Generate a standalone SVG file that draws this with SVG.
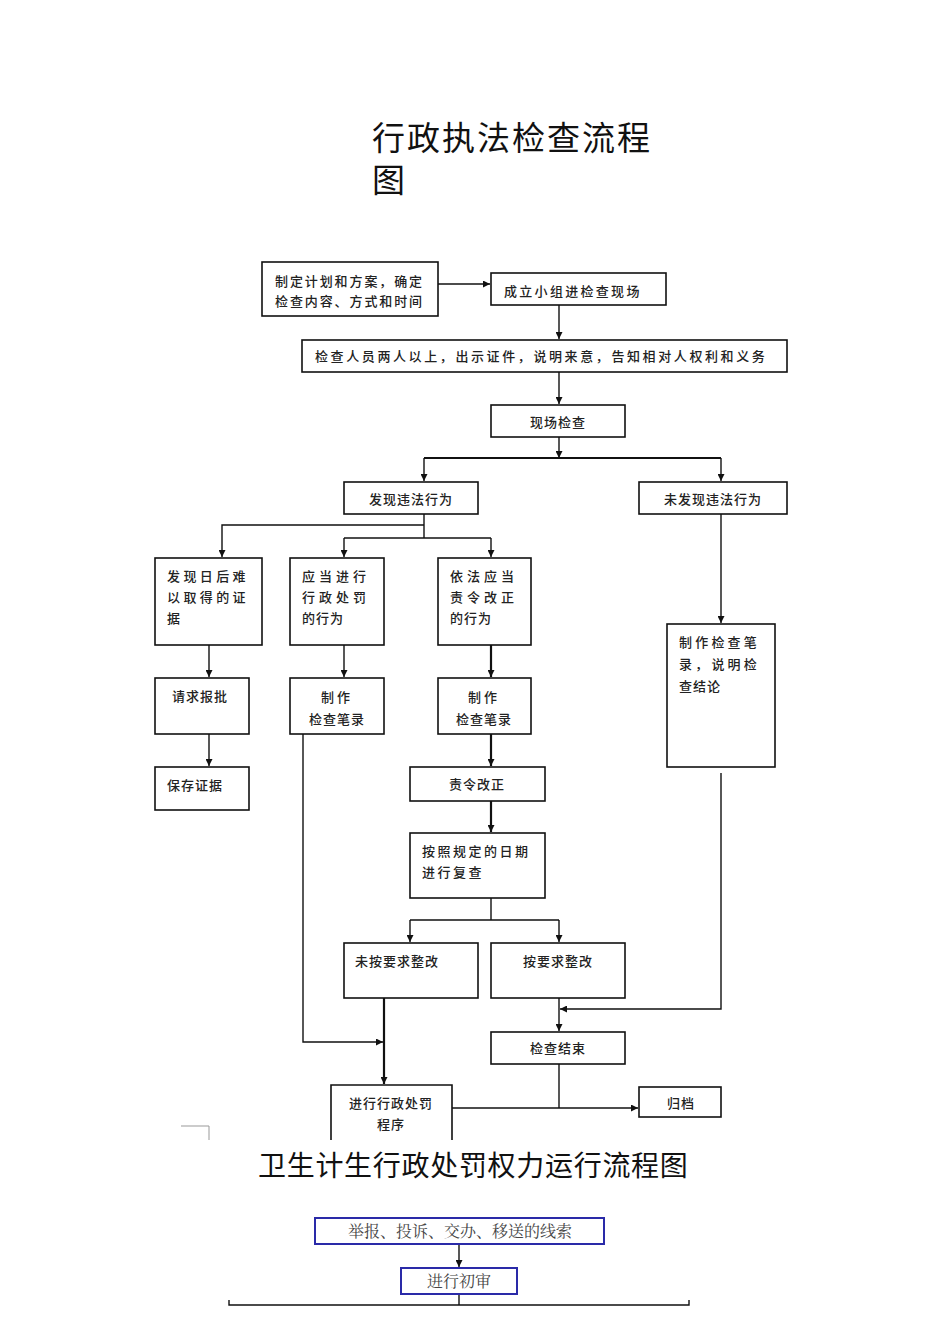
<svg xmlns="http://www.w3.org/2000/svg" width="950" height="1344" viewBox="0 0 950 1344">
<defs>
<style>
.b{fill:#fff;stroke:#111;stroke-width:1.6}
.bb{fill:#fff;stroke:#2a2aa8;stroke-width:2}
.t{font-family:"Noto Sans CJK SC","Noto Sans CJK JP",sans-serif;font-size:13px;fill:#222;font-weight:500}
.s{font-family:"Noto Serif CJK SC","Noto Sans CJK SC",serif;font-size:16px;fill:#444}
.h{font-family:"Noto Sans CJK SC",sans-serif;fill:#111}
.c{fill:none;stroke:#111;stroke-width:1.4}
.ct{fill:none;stroke:#111;stroke-width:2.2}
</style>
<marker id="a" viewBox="0 0 10 10" refX="10" refY="5" markerWidth="7" markerHeight="7" orient="auto" markerUnits="userSpaceOnUse">
<path d="M0,0 L10,5 L0,10 z" fill="#111"/>
</marker>
</defs>
<rect width="950" height="1344" fill="#fff"/>
<text class="h" x="372" y="150" font-size="33" letter-spacing="2"><tspan x="372" y="150">行政执法检查流程</tspan><tspan x="372" y="192">图</tspan></text>

<g id="connectors">
<path class="c" d="M438,284 H490" marker-end="url(#a)"/>
<path class="c" d="M559,305 V339" marker-end="url(#a)"/>
<path class="c" d="M559,372 V404" marker-end="url(#a)"/>
<path class="c" d="M559,437 V458" marker-end="url(#a)"/>
<path class="ct" d="M424,458 H721"/>
<path class="c" d="M424,458 V481" marker-end="url(#a)"/>
<path class="c" d="M721,458 V481" marker-end="url(#a)"/>
<path class="c" d="M424,514 V538"/>
<path class="c" d="M424,525 H222 V557" marker-end="url(#a)"/>
<path class="c" d="M344,538 H491"/>
<path class="c" d="M344,538 V557" marker-end="url(#a)"/>
<path class="c" d="M491,538 V557" marker-end="url(#a)"/>
<path class="c" d="M209,645 V677" marker-end="url(#a)"/>
<path class="c" d="M344,645 V677" marker-end="url(#a)"/>
<path class="ct" d="M491,645 V677" marker-end="url(#a)"/>
<path class="c" d="M209,734 V766" marker-end="url(#a)"/>
<path class="ct" d="M491,734 V766" marker-end="url(#a)"/>
<path class="ct" d="M491,801 V832" marker-end="url(#a)"/>
<path class="c" d="M491,898 V920 M410,920 H559"/>
<path class="c" d="M410,920 V942" marker-end="url(#a)"/>
<path class="c" d="M559,920 V942" marker-end="url(#a)"/>
<path class="c" d="M721,514 V623" marker-end="url(#a)"/>
<path class="c" d="M721,773 V1009 H560" marker-end="url(#a)"/>
<path class="c" d="M559,998 V1031" marker-end="url(#a)"/>
<path class="c" d="M303,734 V1042 H383" marker-end="url(#a)"/>
<path class="ct" d="M384,998 V1084" marker-end="url(#a)"/>
<path class="c" d="M559,1064 V1108"/>
<path class="c" d="M452,1108 H638" marker-end="url(#a)"/>
<path class="c" d="M459,1244 V1267" marker-end="url(#a)"/>
<path class="c" d="M459,1294 V1305 M229,1300 V1305 H689 V1300"/>
<path fill="none" stroke="#999" stroke-width="1" d="M181,1126 H209 V1140"/>
</g>

<g id="n1"><rect class="b" x="262" y="262" width="176" height="54"/>
<text class="t" x="275" y="286" letter-spacing="1.9">制定计划和方案，确定</text>
<text class="t" x="275" y="306" letter-spacing="1.9">检查内容、方式和时间</text></g>
<g id="n2"><rect class="b" x="491" y="273" width="175" height="32"/>
<text class="t" x="504" y="296" letter-spacing="2.3">成立小组进检查现场</text></g>
<g id="n3"><rect class="b" x="302" y="340" width="485" height="32"/>
<text class="t" x="315" y="361" letter-spacing="2.6">检查人员两人以上，出示证件，说明来意，告知相对人权利和义务</text></g>
<g id="n4"><rect class="b" x="491" y="405" width="134" height="32"/>
<text class="t" x="558" y="427" text-anchor="middle" letter-spacing="1">现场检查</text></g>
<g id="n5"><rect class="b" x="344" y="482" width="134" height="32"/>
<text class="t" x="411" y="504" text-anchor="middle" letter-spacing="1">发现违法行为</text></g>
<g id="n6"><rect class="b" x="639" y="482" width="148" height="32"/>
<text class="t" x="713" y="504" text-anchor="middle" letter-spacing="1">未发现违法行为</text></g>
<g id="n7"><rect class="b" x="155" y="558" width="107" height="87"/>
<text class="t" x="167" y="581" letter-spacing="3.4">发现日后难</text>
<text class="t" x="167" y="602" letter-spacing="3.4">以取得的证</text>
<text class="t" x="167" y="623">据</text></g>
<g id="n8"><rect class="b" x="290" y="558" width="94" height="87"/>
<text class="t" x="302" y="581" letter-spacing="4">应当进行</text>
<text class="t" x="302" y="602" letter-spacing="4">行政处罚</text>
<text class="t" x="302" y="623" letter-spacing="1">的行为</text></g>
<g id="n9"><rect class="b" x="438" y="558" width="93" height="87"/>
<text class="t" x="450" y="581" letter-spacing="4">依法应当</text>
<text class="t" x="450" y="602" letter-spacing="4">责令改正</text>
<text class="t" x="450" y="623" letter-spacing="1">的行为</text></g>
<g id="n10"><rect class="b" x="155" y="678" width="94" height="56"/>
<text class="t" x="172" y="701" letter-spacing="1">请求报批</text></g>
<g id="n11"><rect class="b" x="290" y="678" width="94" height="56"/>
<text class="t" x="337" y="702" text-anchor="middle" letter-spacing="3">制作</text>
<text class="t" x="337" y="724" text-anchor="middle" letter-spacing="1">检查笔录</text></g>
<g id="n12"><rect class="b" x="438" y="678" width="93" height="56"/>
<text class="t" x="484" y="702" text-anchor="middle" letter-spacing="3">制作</text>
<text class="t" x="484" y="724" text-anchor="middle" letter-spacing="1">检查笔录</text></g>
<g id="n13"><rect class="b" x="155" y="767" width="94" height="43"/>
<text class="t" x="167" y="790" letter-spacing="1">保存证据</text></g>
<g id="n14"><rect class="b" x="410" y="767" width="135" height="34"/>
<text class="t" x="477" y="789" text-anchor="middle" letter-spacing="1">责令改正</text></g>
<g id="n15"><rect class="b" x="410" y="833" width="135" height="65"/>
<text class="t" x="422" y="856" letter-spacing="2.5">按照规定的日期</text>
<text class="t" x="422" y="877" letter-spacing="2.5">进行复查</text></g>
<g id="n16"><rect class="b" x="344" y="943" width="134" height="55"/>
<text class="t" x="355" y="966" letter-spacing="1">未按要求整改</text></g>
<g id="n17"><rect class="b" x="491" y="943" width="134" height="55"/>
<text class="t" x="558" y="966" text-anchor="middle" letter-spacing="1">按要求整改</text></g>
<g id="n18"><rect class="b" x="667" y="624" width="108" height="143"/>
<text class="t" x="679" y="647" letter-spacing="3.2">制作检查笔</text>
<text class="t" x="679" y="669" letter-spacing="3.2">录，说明检</text>
<text class="t" x="679" y="691" letter-spacing="1">查结论</text></g>
<g id="n19"><rect class="b" x="491" y="1032" width="134" height="32"/>
<text class="t" x="558" y="1053" text-anchor="middle" letter-spacing="1">检查结束</text></g>
<g id="n20"><path class="b" d="M331,1140 V1085 H452 V1140"/>
<text class="t" x="391" y="1108" text-anchor="middle" letter-spacing="1">进行行政处罚</text>
<text class="t" x="391" y="1129" text-anchor="middle" letter-spacing="1">程序</text></g>
<g id="n21"><rect class="b" x="639" y="1087" width="82" height="30"/>
<text class="t" x="667" y="1108" letter-spacing="1">归档</text></g>

<text class="h" x="258" y="1176" font-size="28" letter-spacing="0.7">卫生计生行政处罚权力运行流程图</text>
<g id="n22"><rect class="bb" x="315" y="1218" width="289" height="26"/>
<text class="s" x="460" y="1237" text-anchor="middle">举报、投诉、交办、移送的线索</text></g>
<g id="n23"><rect class="bb" x="401" y="1268" width="116" height="26"/>
<text class="s" x="459" y="1287" text-anchor="middle">进行初审</text></g>
</svg>
